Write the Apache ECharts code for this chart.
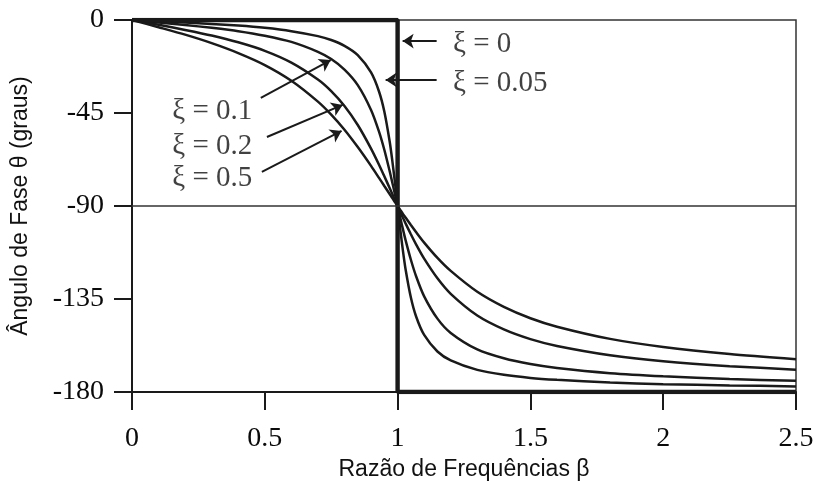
<!DOCTYPE html>
<html><head><meta charset="utf-8">
<script src="https://cdn.jsdelivr.net/npm/echarts@6/dist/echarts.min.js"></script>
<style>html,body{margin:0;padding:0;background:#fff}#c{width:817px;height:481px}</style>
</head><body><div id="c"></div>
<script>
// Frequency ratio β (x) and phase angle θ in degrees (y)
const beta = [0,0.1,0.2,0.3,0.4,0.5,0.6,0.7,0.75,0.8,0.85,0.9,0.93,0.95,0.97,0.98,0.99,1,1.01,1.02,1.03,1.05,1.07,1.1,1.15,1.2,1.3,1.4,1.5,1.6,1.8,2,2.25,2.5];
const xi005 = [0,-0.6,-1.2,-1.9,-2.7,-3.8,-5.4,-7.8,-9.7,-12.5,-17.0,-25.4,-34.6,-44.3,-58.7,-68.0,-78.6,-90,-101.3,-111.6,-120.6,-134.3,-143.6,-152.4,-160.4,-164.7,-169.3,-171.7,-173.2,-174.1,-175.4,-176.2,-176.8,-177.3];
const xi01 = [0,-1.2,-2.4,-3.8,-5.4,-7.6,-10.6,-15.4,-18.9,-24.0,-31.5,-43.5,-54.0,-62.8,-73.1,-78.6,-84.3,-90,-95.7,-101.2,-106.5,-116.0,-124.1,-133.7,-144.5,-151.4,-159.4,-163.7,-166.5,-168.4,-170.9,-172.4,-173.7,-174.6];
const xi02 = [0,-2.3,-4.8,-7.5,-10.8,-14.9,-20.6,-28.8,-34.4,-41.6,-50.8,-62.2,-70.0,-75.6,-81.3,-84.2,-87.1,-90,-92.9,-95.7,-98.4,-103.7,-108.7,-115.5,-125.0,-132.5,-143.0,-149.7,-154.4,-157.7,-162.2,-165.1,-167.5,-169.2];
const xi05 = [0,-3.5,-7.1,-11.2,-16.0,-21.8,-29.4,-39.5,-45.8,-53.1,-61.5,-70.6,-76.4,-80.3,-84.2,-86.2,-88.1,-90,-91.9,-93.8,-95.6,-99.2,-102.7,-107.7,-115.1,-121.4,-131.5,-138.8,-144.3,-148.4,-154.3,-158.2,-161.6,-164.1];
const xi0Beta = [0,1,1,2.5];
const xi0 = [0,0,-180,-180];
const xTicks = [0,0.5,1,1.5,2,2.5];
const yTicks = [0,-45,-90,-135,-180];
const labels = ['ξ = 0','ξ = 0.05','ξ = 0.1','ξ = 0.2','ξ = 0.5'];
const xName = 'Razão de Frequências β';
const yName = 'Ângulo de Fase θ (graus)';

const ink = '#1a1a1a';
const pair = (xs, ys) => xs.map((b, i) => [b, ys[i]]);
const curve = (name, ys) => ({
  name, type: 'line', data: pair(beta, ys), showSymbol: false, smooth: 0.25,
  lineStyle: {color: ink, width: 2.5}, z: 3, silent: true
});
const serif = 'Liberation Serif';

const chart = echarts.init(document.getElementById('c'));
chart.setOption({
  animation: false,
  backgroundColor: '#fff',
  grid: {left: 132, right: 21, top: 20, bottom: 89, containLabel: false, outerBoundsMode: 'none',
         show: true, borderColor: '#333', borderWidth: 1.5, backgroundColor: 'transparent'},
  xAxis: {
    type: 'value', min: 0, max: 2.5, interval: 0.5,
    name: xName, nameLocation: 'middle', nameGap: 61,
    nameTextStyle: {fontFamily: 'Liberation Sans', fontSize: 23, color: '#111'},
    axisLine: {show: true, onZero: false, lineStyle: {color: ink, width: 2}},
    axisTick: {show: true, inside: false, length: 18, lineStyle: {color: ink, width: 2}},
    axisLabel: {margin: 33, fontFamily: serif, fontSize: 28, color: '#0a0a0a', showMinLabel: true, showMaxLabel: true,
      formatter: v => { const t = xTicks.find(k => Math.abs(k - v) < 1e-6); return t === undefined ? '' : String(t); }},
    splitLine: {show: false}
  },
  yAxis: {
    type: 'value', min: -180, max: 0, interval: 45,
    name: yName, nameLocation: 'middle', nameGap: 100, nameRotate: 90,
    nameTextStyle: {fontFamily: 'Liberation Sans', fontSize: 23, color: '#111'},
    axisLine: {show: true, onZero: false, lineStyle: {color: ink, width: 2}},
    axisTick: {show: true, inside: false, length: 18, lineStyle: {color: ink, width: 2}},
    axisLabel: {margin: 28, fontFamily: serif, fontSize: 28, color: '#0a0a0a', showMinLabel: true, showMaxLabel: true,
      formatter: v => { const t = yTicks.find(k => Math.abs(k - v) < 1e-6); return t === undefined ? '' : String(t); }},
    splitLine: {show: false}
  },
  series: [
    curve('ξ = 0.05', xi005),
    curve('ξ = 0.1', xi01),
    curve('ξ = 0.2', xi02),
    curve('ξ = 0.5', xi05),
    {
      name: 'ξ = 0', type: 'line', data: pair(xi0Beta, xi0), showSymbol: false,
      lineStyle: {color: ink, width: 4.4}, z: 4, silent: true,
      markLine: {
        silent: true, animation: false,
        symbol: ['none', 'none'],
        label: {show: false},
        lineStyle: {color: '#333', width: 1.5, type: 'solid'},
        data: [{yAxis: -90}]
      }
    },
    {
      name: 'arrows', type: 'line', data: [], silent: true,
      markLine: {
        silent: true, animation: false,
        symbol: ['none', 'arrow'], symbolSize: 11,
        label: {show: false},
        lineStyle: {color: ink, width: 2, type: 'solid'},
        data: [
          [{coord: [1.147, -10.2]}, {coord: [1.019, -10.2]}],
          [{coord: [1.147, -29.0]}, {coord: [0.955, -29.0]}],
          [{coord: [0.485, -37.7]}, {coord: [0.748, -19.4]}],
          [{coord: [0.508, -56.6]}, {coord: [0.793, -41.1]}],
          [{coord: [0.489, -73.5]}, {coord: [0.789, -53.7]}]
        ]
      }
    },
    {
      name: 'labels', type: 'scatter', symbolSize: 1, itemStyle: {color: 'transparent'}, silent: true,
      label: {show: true, position: 'right', distance: 0, fontFamily: serif, fontSize: 29, color: '#111',
              formatter: p => p.data.t},
      data: [
        {value: [1.207, -11.6], t: labels[0]},
        {value: [1.207, -30.5], t: labels[1]},
        {value: [0.150, -44.0], t: labels[2]},
        {value: [0.150, -61.0], t: labels[3]},
        {value: [0.150, -76.5], t: labels[4]}
      ]
    }
  ]
});
</script></body></html>
